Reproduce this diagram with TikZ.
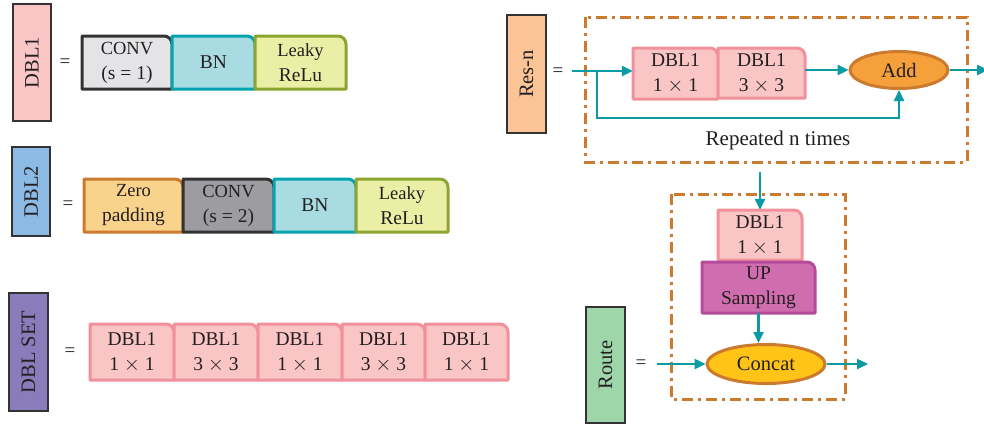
\documentclass[tikz,border=0pt]{standalone}
\usepackage{fontspec}
\setmainfont{Liberation Serif}
\usetikzlibrary{arrows.meta,shapes.geometric}

\definecolor{ink}{HTML}{231F20}
\definecolor{frame}{HTML}{333333}
\definecolor{pinkfill}{HTML}{FAC5C5}
\definecolor{pinkline}{HTML}{F0919B}
\definecolor{grayfill}{HTML}{E4E4E7}
\definecolor{darkgray}{HTML}{9D9DA1}
\definecolor{tealfill}{HTML}{A8DCE2}
\definecolor{tealline}{HTML}{04A4AE}
\definecolor{limefill}{HTML}{EBEFA6}
\definecolor{limeline}{HTML}{8CA431}
\definecolor{sandfill}{HTML}{F9D38B}
\definecolor{rust}{HTML}{CC7A2E}
\definecolor{bluefill}{HTML}{8DBAE4}
\definecolor{violetfill}{HTML}{8A7CBA}
\definecolor{peachfill}{HTML}{FAC497}
\definecolor{addfill}{HTML}{F5A03A}
\definecolor{magfill}{HTML}{D06DAF}
\definecolor{magline}{HTML}{B44C9A}
\definecolor{goldfill}{HTML}{FFC416}
\definecolor{greenfill}{HTML}{9ED6AA}
\definecolor{flow}{HTML}{0A9BA5}

\tikzset{
  boxtext/.style={inner sep=0pt, align=center, text=ink,
    font=\fontsize{19.5}{25}\selectfont},
  tabline/.style={line width=3pt, line join=round},
  pinkbox/.style={tabline, draw=pinkline, fill=pinkfill},
  convbox/.style={tabline, draw=frame, fill=grayfill},
  convdark/.style={tabline, draw=frame, fill=darkgray},
  bnbox/.style={tabline, draw=tealline, fill=tealfill},
  relubox/.style={tabline, draw=limeline, fill=limefill},
  padbox/.style={tabline, draw=rust, fill=sandfill},
  upbox/.style={tabline, draw=magline, fill=magfill},
  sidelabel/.style={draw=frame, line width=2pt, rotate=90, inner sep=0pt,
    text=ink, font=\fontsize{20.5}{24}\selectfont},
  eqsign/.style={text=ink, font=\fontsize{19}{20}\selectfont, inner sep=0pt},
  oval/.style={ellipse, line width=3pt, draw=rust, inner sep=0pt, text=ink,
    font=\fontsize{20.5}{24}\selectfont},
  group/.style={draw=rust, line width=3pt,
    dash pattern=on 11pt off 5pt on 3pt off 5pt},
  arr/.style={draw=flow, line width=2.4pt,
    -{Triangle[length=11pt,width=10pt]}},
}

% box with a rounded top-right corner: name, x, y, width, height, style, text
\newcommand{\tabbox}[7]{%
  \draw[#6] (#2,#3+#5) -- (#2,#3) -- (#2+#4-8,#3)
    .. controls (#2+#4-3.6,#3) and (#2+#4,#3+3.6) .. (#2+#4,#3+8)
    -- (#2+#4,#3+#5) -- cycle;
  \node[boxtext, minimum width=#4pt, minimum height=#5pt]
    (#1) at (#2+#4/2,#3+#5/2) {#7};}
\newcommand{\twoline}{\fontsize{18.5}{22}\selectfont}

\begin{document}
\begin{tikzpicture}[x=1pt,y=-1pt]
\useasboundingbox (0,0) rectangle (984,426);

% ---- DBL1 ----
\node[sidelabel, fill=pinkfill, minimum width=117pt, minimum height=38pt]
  (lab1) at (32,62.5) {DBL1};
\node[eqsign] (eq1) at (65,63) {=};
\tabbox{conv1}{82}{36}{90}{53}{convbox}{\twoline CONV\\(s = 1)}
\tabbox{bn1}{172}{36}{83}{53}{bnbox}{BN}
\tabbox{relu1}{255}{36}{91}{53}{relubox}{\twoline Leaky\\ReLu}

% ---- DBL2 ----
\node[sidelabel, fill=bluefill, minimum width=89pt, minimum height=38pt]
  (lab2) at (31,191.5) {DBL2};
\node[eqsign] (eq2) at (68,205) {=};
\tabbox{pad2}{84}{179}{99}{53}{padbox}{\twoline Zero\\padding}
\tabbox{conv2}{183}{179}{91}{53}{convdark}{\twoline CONV\\(s = 2)}
\tabbox{bn2}{274}{179}{82}{53}{bnbox}{BN}
\tabbox{relu2}{356}{179}{92}{53}{relubox}{\twoline Leaky\\ReLu}

% ---- DBL SET ----
\node[sidelabel, fill=violetfill, minimum width=118pt, minimum height=39pt]
  (lab3) at (28.5,352) {DBL SET};
\node[eqsign] (eq3) at (70,352) {=};
\tabbox{s1}{90}{324}{84}{56}{pinkbox}{DBL1\\1 $\times$ 1}
\tabbox{s2}{174}{324}{84}{56}{pinkbox}{DBL1\\3 $\times$ 3}
\tabbox{s3}{258}{324}{84}{56}{pinkbox}{DBL1\\1 $\times$ 1}
\tabbox{s4}{342}{324}{83}{56}{pinkbox}{DBL1\\3 $\times$ 3}
\tabbox{s5}{425}{324}{83}{56}{pinkbox}{DBL1\\1 $\times$ 1}

% ---- Res-n ----
\node[sidelabel, fill=peachfill, minimum width=118pt, minimum height=39pt]
  (lab4) at (526.5,74) {Res-n};
\node[eqsign] (eq4) at (558,72) {=};
\draw[group] (585,17) rectangle (967,162);
\tabbox{r1}{633}{48}{85}{51}{pinkbox}{DBL1\\1 $\times$ 1}
\tabbox{r2}{718}{48}{87}{50}{pinkbox}{DBL1\\3 $\times$ 3}
\node[oval, fill=addfill, minimum width=98pt, minimum height=37pt]
  (add) at (899,70) {Add};
\coordinate (resin) at (572,71);
\coordinate (split) at (597,71);
\coordinate (resout) at (988,70);
\draw[arr] (resin) -- (r1.west |- resin);
\draw[arr] (r2.east |- add) -- (add.west);
\draw[arr] (split) -- (597,118) -- (add.south |- 0,118) -- (add.south);
\draw[arr] (add.east) -- (resout);
\node[text=ink, font=\fontsize{21}{24}\selectfont, inner sep=0pt]
  (rep) at (778,140) {Repeated n times};

% ---- Route ----
\node[sidelabel, fill=greenfill, minimum width=116pt, minimum height=39pt]
  (lab5) at (605.5,365) {Route};
\node[eqsign] (eq5) at (641,364) {=};
\draw[group] (671,194) rectangle (845,399);
\tabbox{u1}{718}{210}{84}{50}{pinkbox}{DBL1\\1 $\times$ 1}
\tabbox{up}{702}{262}{113}{51}{upbox}{UP\\Sampling}
\node[oval, fill=goldfill, minimum width=118pt, minimum height=39pt]
  (cat) at (766,364) {Concat};
\coordinate (feed) at (760,172);
\coordinate (catin) at (657,364);
\coordinate (catout) at (868,364);
\draw[arr] (feed) -- (feed |- u1.north);
\draw[arr] (up.south) -- (up.south |- cat.north);
\draw[arr] (catin) -- (cat.west);
\draw[arr] (cat.east) -- (catout);
\end{tikzpicture}
\end{document}
